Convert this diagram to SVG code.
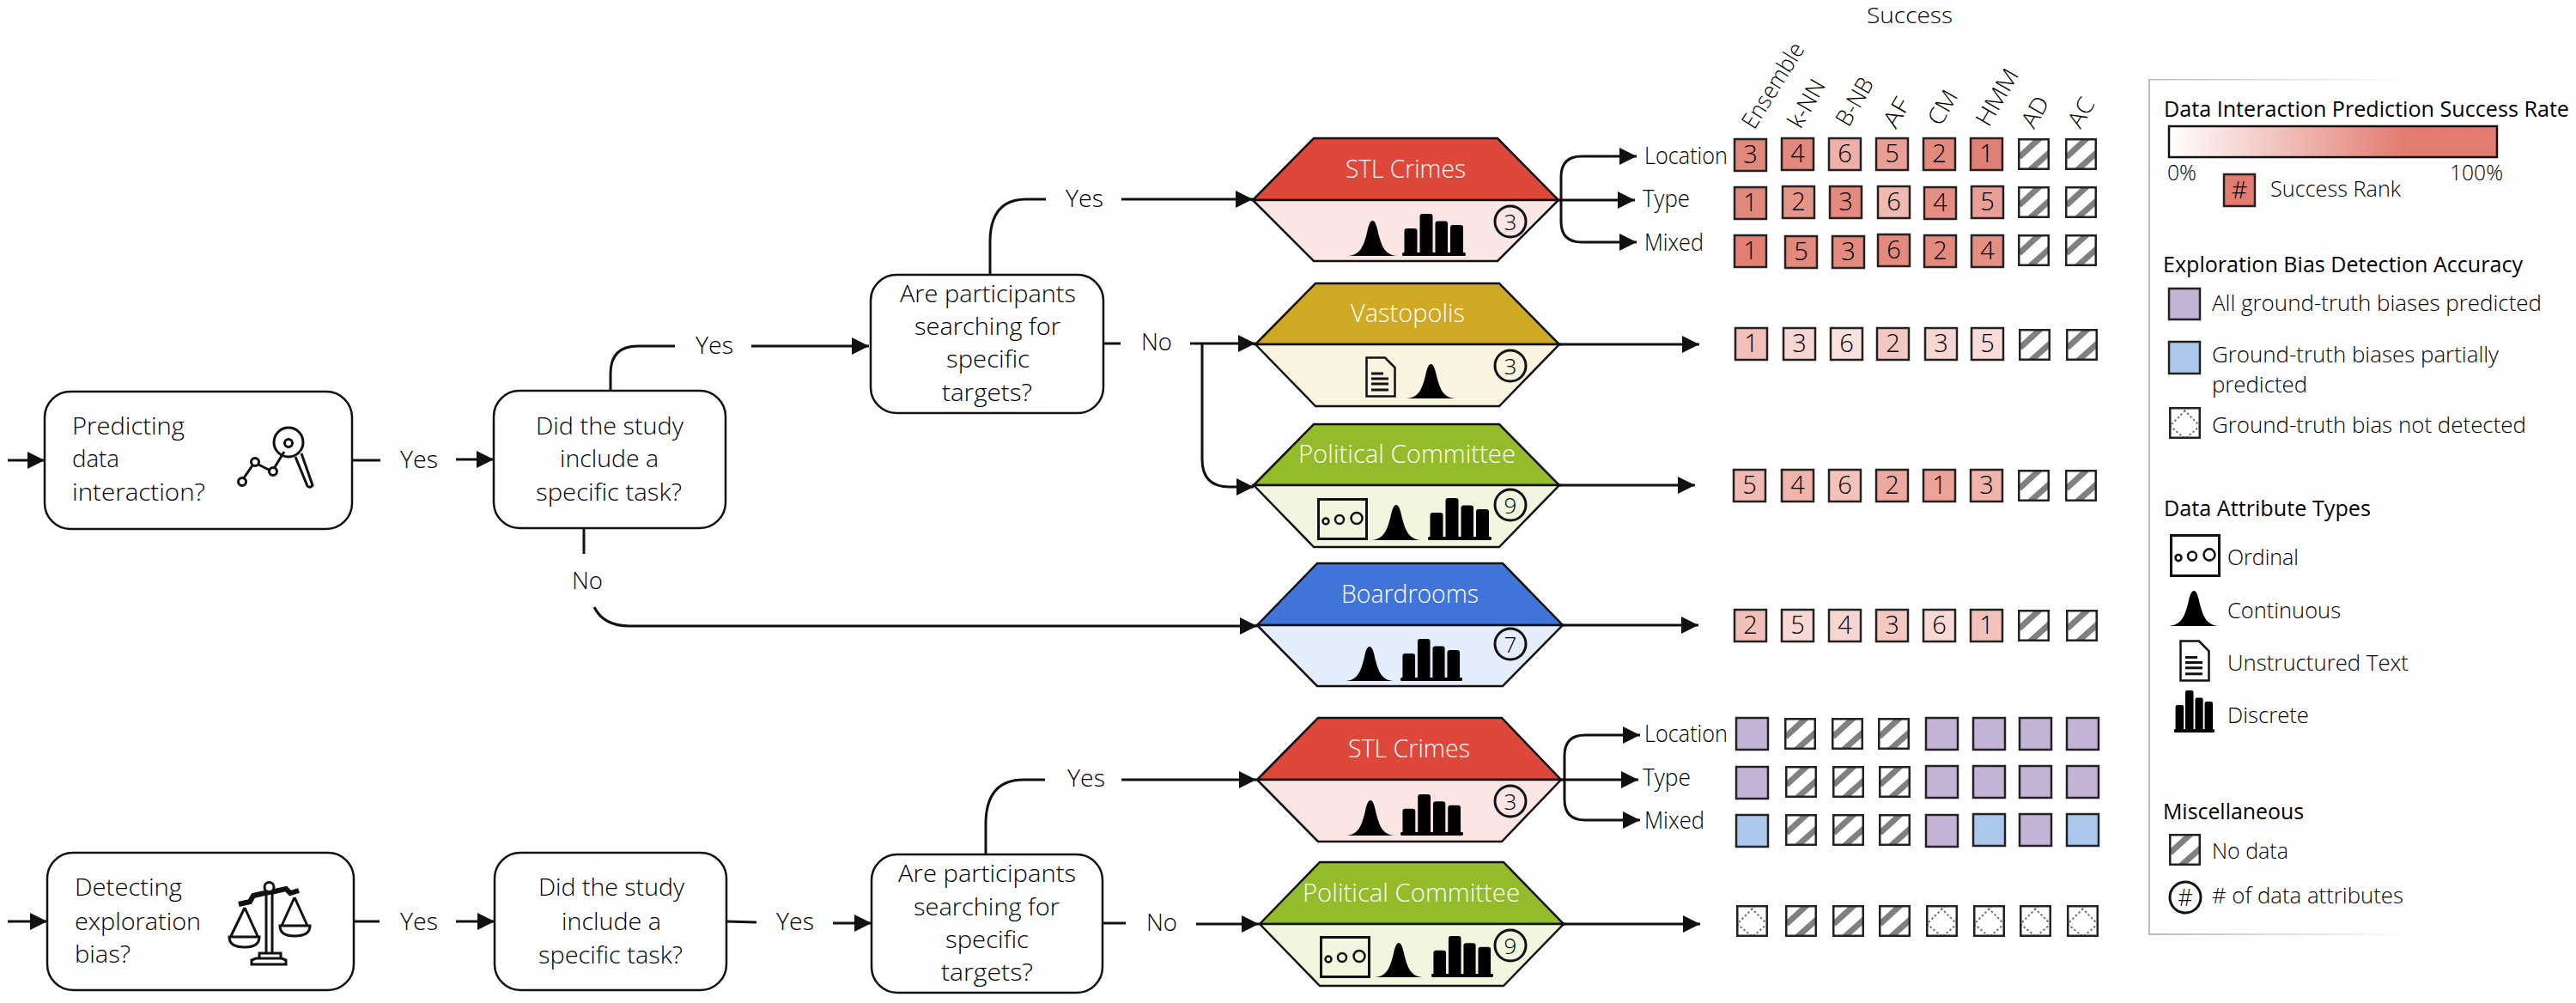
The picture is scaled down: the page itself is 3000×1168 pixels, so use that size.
<svg xmlns="http://www.w3.org/2000/svg" width="3000" height="1168" viewBox="0 0 3000 1168">
<style>
text{font-family:"Open Sans","Noto Sans","Liberation Sans",sans-serif;font-weight:300;fill:#000}
.t{font-size:28px}
.l{font-size:25px}
.h{font-size:25px;font-weight:400}
.w{font-size:30px;fill:#fff}
.n{font-size:29px;text-anchor:middle}
.cn{font-size:26px;text-anchor:middle}
.b{fill:#fff;stroke:#111;stroke-width:2.5}
.hx{stroke:#111;stroke-width:2.5;stroke-linejoin:miter}
.c{stroke:#222;stroke-width:2.5}
.k{fill:none;stroke:#111;stroke-width:3}
.a{fill:none;stroke:#111;stroke-width:3;marker-end:url(#arrow)}
.ci{fill:none;stroke:#111;stroke-width:3}
.i{fill:none;stroke:#111;stroke-width:3}
</style>
<defs>
<marker id="arrow" markerUnits="userSpaceOnUse" markerWidth="20" markerHeight="20" refX="20" refY="10" orient="auto"><path d="M0 0L20 10L0 20Z" fill="#111"/></marker>
<linearGradient id="grad"><stop offset="0" stop-color="#fff"/><stop offset=".72" stop-color="#E27B70"/><stop offset="1" stop-color="#E27B70"/></linearGradient>
<linearGradient id="fade"><stop offset="0" stop-color="#bbb"/><stop offset="1" stop-color="#fff"/></linearGradient>
<symbol id="bell" viewBox="0 0 57 41" preserveAspectRatio="none"><path d="M0 41C14 40 18 30 22 14C24 4 26 0 28.5 0C31 0 33 4 35 14C39 30 43 40 57 41Z" fill="#000"/></symbol>
<symbol id="bars" viewBox="0 0 74 49" preserveAspectRatio="none"><g fill="#000"><rect x="2.5" y="17" width="15" height="31" rx="3"/><rect x="20.5" y="0" width="15" height="48" rx="3"/><rect x="38.5" y="8.5" width="14.5" height="40" rx="3"/><rect x="56" y="13" width="15" height="35" rx="3"/><rect x="0" y="45" width="74" height="4" rx="1.5"/></g></symbol>
<symbol id="doc" viewBox="0 0 36 48" preserveAspectRatio="none"><path d="M1.5 1.5H23L34.5 13V46.5H1.5Z" fill="none" stroke="#111" stroke-width="2.5"/><path d="M7 20H21M7 26H27M7 32H27M7 39H27" fill="none" stroke="#111" stroke-width="3"/></symbol>
<symbol id="ord" viewBox="0 0 59 49" preserveAspectRatio="none"><rect x="1.5" y="1.5" width="56" height="46" fill="none" stroke="#111" stroke-width="3"/><circle cx="10" cy="27" r="3.5" fill="none" stroke="#111" stroke-width="2.5"/><circle cx="26" cy="25" r="5" fill="none" stroke="#111" stroke-width="2.5"/><circle cx="46" cy="23.5" r="6.5" fill="none" stroke="#111" stroke-width="2.5"/></symbol>
<symbol id="nd" viewBox="0 0 37 37"><rect width="37" height="37" fill="#fff"/><path d="M1.5 22L25.6 0M14 37L37 16.5" stroke="#808080" stroke-width="7" fill="none"/><rect width="37" height="37" fill="none" stroke="#222" stroke-width="5"/></symbol>
<symbol id="nf" viewBox="0 0 37 37"><rect width="37" height="37" fill="#fff"/><path d="M14 0L36 22L19 37L1 22L23 0" stroke="#707070" stroke-width="2" stroke-dasharray="2.5 2.5" fill="none"/><rect width="37" height="37" fill="none" stroke="#222" stroke-width="5"/></symbol>
</defs>

<g id="connectors">
<path class="a" d="M9 536H52"/>
<path class="k" d="M410 536H443"/>
<path class="a" d="M531 535H575"/>
<path class="k" d="M711 455V435Q711 403 743 403H786"/>
<path class="a" d="M875 403H1012"/>
<path class="k" d="M680 615V645"/>
<path class="a" d="M692 707Q703 729 733 729H1100H1464"/>
<path class="k" d="M1153 320V282Q1153 232 1195 232H1218"/>
<path class="a" d="M1306 232H1459"/>
<path class="k" d="M1285 400H1305"/>
<path class="a" d="M1386 400H1462"/>
<path class="a" d="M1400 400V535Q1400 567 1432 567H1460"/>
<path class="a" d="M1815 233H1904"/>
<path class="a" d="M1818 233V206Q1818 182 1842 182H1906"/>
<path class="a" d="M1818 233V258Q1818 282 1842 282H1906"/>
<path class="a" d="M1816 401H1979"/>
<path class="a" d="M1816 565H1974"/>
<path class="a" d="M1820 728H1978"/>
<path class="a" d="M9 1073H55"/>
<path class="k" d="M412 1073H442"/>
<path class="a" d="M531 1073H576"/>
<path class="k" d="M846 1073L881 1074"/>
<path class="a" d="M970 1075H1015"/>
<path class="k" d="M1148 995V960Q1148 908 1192 908H1217"/>
<path class="a" d="M1306 908H1463"/>
<path class="k" d="M1284 1075H1311"/>
<path class="a" d="M1393 1076H1466"/>
<path class="a" d="M1818 908H1908"/>
<path class="a" d="M1822 908V880Q1822 856 1846 856H1910"/>
<path class="a" d="M1822 908V931Q1822 955 1846 955H1910"/>
<path class="a" d="M1821 1076H1980"/>
</g>

<g id="edge-labels">
<text class="t" x="466" y="545" textLength="44" lengthAdjust="spacingAndGlyphs">Yes</text>
<text class="t" x="810" y="412" textLength="44" lengthAdjust="spacingAndGlyphs">Yes</text>
<text class="t" x="666" y="686" textLength="36" lengthAdjust="spacingAndGlyphs">No</text>
<text class="t" x="1241" y="241" textLength="44" lengthAdjust="spacingAndGlyphs">Yes</text>
<text class="t" x="1329" y="408" textLength="36" lengthAdjust="spacingAndGlyphs">No</text>
<text class="t" x="466" y="1083" textLength="44" lengthAdjust="spacingAndGlyphs">Yes</text>
<text class="t" x="904" y="1083" textLength="44" lengthAdjust="spacingAndGlyphs">Yes</text>
<text class="t" x="1243" y="916" textLength="44" lengthAdjust="spacingAndGlyphs">Yes</text>
<text class="t" x="1335" y="1084" textLength="36" lengthAdjust="spacingAndGlyphs">No</text>
<text class="t" x="1915" y="191" textLength="97" lengthAdjust="spacingAndGlyphs">Location</text>
<text class="t" x="1913" y="241" textLength="55" lengthAdjust="spacingAndGlyphs">Type</text>
<text class="t" x="1915" y="292" textLength="69" lengthAdjust="spacingAndGlyphs">Mixed</text>
<text class="t" x="1915" y="864" textLength="97" lengthAdjust="spacingAndGlyphs">Location</text>
<text class="t" x="1913" y="915" textLength="56" lengthAdjust="spacingAndGlyphs">Type</text>
<text class="t" x="1915" y="965" textLength="70" lengthAdjust="spacingAndGlyphs">Mixed</text>
</g>

<g id="node-predict">
<rect class="b" x="52" y="456" width="358" height="160" rx="30"/>
<text class="t" x="84" y="506" textLength="131" lengthAdjust="spacingAndGlyphs">Predicting</text>
<text class="t" x="84" y="544" textLength="55" lengthAdjust="spacingAndGlyphs">data</text>
<text class="t" x="84" y="583" textLength="155" lengthAdjust="spacingAndGlyphs">interaction?</text>
<path class="i" d="M283 558L294 542M301 541L313 547M320 544L331 526M344 532L358 566Q361 569 364 565L351 528"/>
<circle class="i" cx="282" cy="561" r="4.5"/><circle class="i" cx="297" cy="538" r="4.5"/><circle class="i" cx="318" cy="549" r="4.5"/><circle class="i" cx="336" cy="516" r="4.5"/><circle class="i" cx="336" cy="515" r="17"/>
</g>
<g id="node-task1">
<rect class="b" x="575" y="455" width="270" height="160" rx="30"/>
<text class="t" x="624" y="506" textLength="172" lengthAdjust="spacingAndGlyphs">Did the study</text>
<text class="t" x="652" y="544" textLength="115" lengthAdjust="spacingAndGlyphs">include a</text>
<text class="t" x="624" y="583" textLength="170" lengthAdjust="spacingAndGlyphs">specific task?</text>
</g>
<g id="node-targets1">
<rect class="b" x="1014" y="320" width="271" height="161" rx="30"/>
<text class="t" x="1048" y="352" textLength="205" lengthAdjust="spacingAndGlyphs">Are participants</text>
<text class="t" x="1065" y="390" textLength="170" lengthAdjust="spacingAndGlyphs">searching for</text>
<text class="t" x="1102" y="428" textLength="97" lengthAdjust="spacingAndGlyphs">specific</text>
<text class="t" x="1097" y="467" textLength="105" lengthAdjust="spacingAndGlyphs">targets?</text>
</g>
<g id="node-detect">
<rect class="b" x="55" y="993" width="357" height="160" rx="30"/>
<text class="t" x="87" y="1043" textLength="125" lengthAdjust="spacingAndGlyphs">Detecting</text>
<text class="t" x="87" y="1083" textLength="147" lengthAdjust="spacingAndGlyphs">exploration</text>
<text class="t" x="87" y="1121" textLength="65" lengthAdjust="spacingAndGlyphs">bias?</text>
<path d="M278 1053L291 1050L295 1043L308 1040L320 1038L333 1035L338 1040L348 1037" fill="none" stroke="#111" stroke-width="6"/>
<path class="i" d="M310 1038V1110M317 1038V1110M302 1116V1110H327V1116M293 1123V1118L298 1116H328L333 1118V1123ZM285 1057L269 1090M285 1057L300 1090M267 1091H302Q302 1103 285 1103Q267 1103 267 1091ZM343 1045L328 1078M343 1045L358 1078M326 1078H361Q361 1090 343 1090Q326 1090 326 1078Z"/>
<circle cx="313.500" cy="1033" r="5.500" fill="#fff" stroke="#111" stroke-width="3"/>
</g>
<g id="node-task2">
<rect class="b" x="576" y="993" width="270" height="160" rx="30"/>
<text class="t" x="627" y="1043" textLength="170" lengthAdjust="spacingAndGlyphs">Did the study</text>
<text class="t" x="654" y="1083" textLength="116" lengthAdjust="spacingAndGlyphs">include a</text>
<text class="t" x="627" y="1122" textLength="168" lengthAdjust="spacingAndGlyphs">specific task?</text>
</g>
<g id="node-targets2">
<rect class="b" x="1015" y="995" width="269" height="161" rx="30"/>
<text class="t" x="1046" y="1027" textLength="207" lengthAdjust="spacingAndGlyphs">Are participants</text>
<text class="t" x="1064" y="1066" textLength="170" lengthAdjust="spacingAndGlyphs">searching for</text>
<text class="t" x="1101" y="1104" textLength="97" lengthAdjust="spacingAndGlyphs">specific</text>
<text class="t" x="1096" y="1142" textLength="107" lengthAdjust="spacingAndGlyphs">targets?</text>
</g>

<g id="node-stl1">
<path class="hx" fill="#DE483A" d="M1459 233L1530 161H1744L1815 233Z"/>
<path class="hx" fill="#F9E6E4" d="M1459 233L1530 304H1744L1815 233Z"/>
<text class="w" x="1567" y="207" textLength="140" lengthAdjust="spacingAndGlyphs">STL Crimes</text>
<use href="#bell" x="1570" y="257" width="57" height="41"/><use href="#bars" x="1633" y="249" width="74" height="49"/>
<circle class="ci" cx="1759" cy="258" r="18"/><text class="cn" x="1759" y="268">3</text>
</g>
<g id="node-vastopolis">
<path class="hx" fill="#CFA824" d="M1462 401L1532 330H1746L1816 401Z"/>
<path class="hx" fill="#F9F4E0" d="M1462 401L1532 473H1746L1816 401Z"/>
<text class="w" x="1573" y="375" textLength="133" lengthAdjust="spacingAndGlyphs">Vastopolis</text>
<use href="#doc" x="1590" y="415" width="36" height="48"/><use href="#bell" x="1638" y="424" width="57" height="40"/>
<circle class="ci" cx="1759" cy="426" r="18"/><text class="cn" x="1759" y="436">3</text>
</g>
<g id="node-pol1">
<path class="hx" fill="#94BB2A" d="M1460 565L1530 494H1746L1816 565Z"/>
<path class="hx" fill="#F1F6DF" d="M1460 565L1530 637H1746L1816 565Z"/>
<text class="w" x="1512" y="539" textLength="253" lengthAdjust="spacingAndGlyphs">Political Committee</text>
<use href="#ord" x="1534" y="580" width="59" height="49"/><use href="#bell" x="1597" y="588" width="58" height="41"/><use href="#bars" x="1663" y="580" width="74" height="49"/>
<circle class="ci" cx="1759" cy="588" r="18"/><text class="cn" x="1759" y="598">9</text>
</g>
<g id="node-boardrooms">
<path class="hx" fill="#4174D9" d="M1464 728L1534 656H1750L1820 728Z"/>
<path class="hx" fill="#E4EDFB" d="M1464 728L1534 799H1750L1820 728Z"/>
<text class="w" x="1562" y="702" textLength="160" lengthAdjust="spacingAndGlyphs">Boardrooms</text>
<use href="#bell" x="1567" y="753" width="56" height="40"/><use href="#bars" x="1631" y="744" width="72" height="49"/>
<circle class="ci" cx="1759" cy="750" r="18"/><text class="cn" x="1759" y="760">7</text>
</g>
<g id="node-stl2">
<path class="hx" fill="#DE483A" d="M1464 908L1535 836H1749L1818 908Z"/>
<path class="hx" fill="#F9E6E4" d="M1464 908L1535 980H1749L1818 908Z"/>
<text class="w" x="1570" y="882" textLength="142" lengthAdjust="spacingAndGlyphs">STL Crimes</text>
<use href="#bell" x="1568" y="932" width="56" height="41"/><use href="#bars" x="1631" y="925" width="73" height="48"/>
<circle class="ci" cx="1759" cy="933" r="18"/><text class="cn" x="1759" y="943">3</text>
</g>
<g id="node-pol2">
<path class="hx" fill="#94BB2A" d="M1467 1076L1537 1004H1751L1821 1076Z"/>
<path class="hx" fill="#F1F6DF" d="M1467 1076L1537 1148H1751L1821 1076Z"/>
<text class="w" x="1517" y="1050" textLength="253" lengthAdjust="spacingAndGlyphs">Political Committee</text>
<use href="#ord" x="1537" y="1090" width="59" height="49"/><use href="#bell" x="1601" y="1098" width="56" height="40"/><use href="#bars" x="1667" y="1090" width="72" height="48"/>
<circle class="ci" cx="1759" cy="1101" r="18"/><text class="cn" x="1759" y="1111">9</text>
</g>

<g id="matrix-headers">
<text class="h" x="2174" y="27" textLength="100" lengthAdjust="spacingAndGlyphs" style="font-size:26px;font-weight:300">Success</text>
<g>
<text class="l" style="font-size:27px" transform="translate(2043 152) rotate(-58)" textLength="112" lengthAdjust="spacingAndGlyphs">Ensemble</text>
<text class="l" style="font-size:27px" transform="translate(2097 151) rotate(-60)" textLength="60" lengthAdjust="spacingAndGlyphs">k-NN</text>
<text class="l" style="font-size:27px" transform="translate(2153 149) rotate(-60)" textLength="60" lengthAdjust="spacingAndGlyphs">B-NB</text>
<text class="l" style="font-size:27px" transform="translate(2208 151) rotate(-60)" textLength="35" lengthAdjust="spacingAndGlyphs">AF</text>
<text class="l" style="font-size:27px" transform="translate(2260 148) rotate(-60)" textLength="42" lengthAdjust="spacingAndGlyphs">CM</text>
<text class="l" style="font-size:27px" transform="translate(2316 149) rotate(-60)" textLength="72" lengthAdjust="spacingAndGlyphs">HMM</text>
<text class="l" style="font-size:27px" transform="translate(2369 151) rotate(-60)" textLength="37" lengthAdjust="spacingAndGlyphs">AD</text>
<text class="l" style="font-size:27px" transform="translate(2423 151) rotate(-60)" textLength="35" lengthAdjust="spacingAndGlyphs">AC</text>
</g>
</g>

<g id="matrix-success">
<g transform="translate(2020 162)"><rect class="c" width="37" height="37" fill="#E2897E"/><text class="n" x="18.500" y="28">3</text></g>
<g transform="translate(2075 161)"><rect class="c" width="37" height="37" fill="#E2897E"/><text class="n" x="18.500" y="28">4</text></g>
<g transform="translate(2130 161)"><rect class="c" width="37" height="37" fill="#EEB0A8"/><text class="n" x="18.500" y="28">6</text></g>
<g transform="translate(2185 161)"><rect class="c" width="37" height="37" fill="#E99F95"/><text class="n" x="18.500" y="28">5</text></g>
<g transform="translate(2240 161)"><rect class="c" width="37" height="37" fill="#E3897D"/><text class="n" x="18.500" y="28">2</text></g>
<g transform="translate(2295 161)"><rect class="c" width="37" height="37" fill="#E07F73"/><text class="n" x="18.500" y="28">1</text></g>
<use href="#nd" x="2350" y="161" width="37" height="37"/><use href="#nd" x="2405" y="161" width="37" height="37"/>

<g transform="translate(2020 218)"><rect class="c" width="37" height="37" fill="#E2897E"/><text class="n" x="18.500" y="28">1</text></g>
<g transform="translate(2076 217)"><rect class="c" width="37" height="37" fill="#E59488"/><text class="n" x="18.500" y="28">2</text></g>
<g transform="translate(2131 217)"><rect class="c" width="37" height="37" fill="#E3897D"/><text class="n" x="18.500" y="28">3</text></g>
<g transform="translate(2187 217)"><rect class="c" width="37" height="37" fill="#F0B9B2"/><text class="n" x="18.500" y="28">6</text></g>
<g transform="translate(2241 218)"><rect class="c" width="37" height="37" fill="#E58E83"/><text class="n" x="18.500" y="28">4</text></g>
<g transform="translate(2296 217)"><rect class="c" width="37" height="37" fill="#E99F95"/><text class="n" x="18.500" y="28">5</text></g>
<use href="#nd" x="2350" y="217" width="37" height="37"/><use href="#nd" x="2405" y="217" width="37" height="37"/>

<g transform="translate(2020 274)"><rect class="c" width="37" height="37" fill="#E17F73"/><text class="n" x="18.500" y="28">1</text></g>
<g transform="translate(2079 275)"><rect class="c" width="37" height="37" fill="#E3897D"/><text class="n" x="18.500" y="28">5</text></g>
<g transform="translate(2134 275)"><rect class="c" width="37" height="37" fill="#E3897D"/><text class="n" x="18.500" y="28">3</text></g>
<g transform="translate(2187 273)"><rect class="c" width="37" height="37" fill="#E3897D"/><text class="n" x="18.500" y="28">6</text></g>
<g transform="translate(2241 274)"><rect class="c" width="37" height="37" fill="#E3897D"/><text class="n" x="18.500" y="28">2</text></g>
<g transform="translate(2296 274)"><rect class="c" width="37" height="37" fill="#E58E83"/><text class="n" x="18.500" y="28">4</text></g>
<use href="#nd" x="2350" y="273" width="37" height="37"/><use href="#nd" x="2405" y="273" width="37" height="37"/>

<g transform="translate(2021 382)"><rect class="c" width="37" height="37" fill="#F2C0B9"/><text class="n" x="18.500" y="28">1</text></g>
<g transform="translate(2077 382)"><rect class="c" width="37" height="37" fill="#F6D6D1"/><text class="n" x="18.500" y="28">3</text></g>
<g transform="translate(2132 382)"><rect class="c" width="37" height="37" fill="#FAE1DD"/><text class="n" x="18.500" y="28">6</text></g>
<g transform="translate(2186 382)"><rect class="c" width="37" height="37" fill="#F3C8C2"/><text class="n" x="18.500" y="28">2</text></g>
<g transform="translate(2242 382)"><rect class="c" width="37" height="37" fill="#F6D6D1"/><text class="n" x="18.500" y="28">3</text></g>
<g transform="translate(2296 382)"><rect class="c" width="37" height="37" fill="#F9DCD8"/><text class="n" x="18.500" y="28">5</text></g>
<use href="#nd" x="2351" y="383" width="37" height="37"/><use href="#nd" x="2406" y="383" width="37" height="37"/>

<g transform="translate(2019 547)"><rect class="c" width="37" height="37" fill="#F0B9B3"/><text class="n" x="18.500" y="28">5</text></g>
<g transform="translate(2075 547)"><rect class="c" width="37" height="37" fill="#F0B4AD"/><text class="n" x="18.500" y="28">4</text></g>
<g transform="translate(2130 547)"><rect class="c" width="37" height="37" fill="#F3C2BB"/><text class="n" x="18.500" y="28">6</text></g>
<g transform="translate(2185 547)"><rect class="c" width="37" height="37" fill="#EDA99F"/><text class="n" x="18.500" y="28">2</text></g>
<g transform="translate(2240 547)"><rect class="c" width="37" height="37" fill="#ECA297"/><text class="n" x="18.500" y="28">1</text></g>
<g transform="translate(2295 547)"><rect class="c" width="37" height="37" fill="#F0B4AD"/><text class="n" x="18.500" y="28">3</text></g>
<use href="#nd" x="2350" y="547" width="37" height="37"/><use href="#nd" x="2405" y="547" width="37" height="37"/>

<g transform="translate(2020 710)"><rect class="c" width="37" height="37" fill="#F1C0B8"/><text class="n" x="18.500" y="28">2</text></g>
<g transform="translate(2075 710)"><rect class="c" width="37" height="37" fill="#F8D9D5"/><text class="n" x="18.500" y="28">5</text></g>
<g transform="translate(2130 710)"><rect class="c" width="37" height="37" fill="#F7D6D1"/><text class="n" x="18.500" y="28">4</text></g>
<g transform="translate(2185 710)"><rect class="c" width="37" height="37" fill="#F3C8C1"/><text class="n" x="18.500" y="28">3</text></g>
<g transform="translate(2240 710)"><rect class="c" width="37" height="37" fill="#F8D9D5"/><text class="n" x="18.500" y="28">6</text></g>
<g transform="translate(2295 710)"><rect class="c" width="37" height="37" fill="#F2C2BA"/><text class="n" x="18.500" y="28">1</text></g>
<use href="#nd" x="2350" y="710" width="37" height="37"/><use href="#nd" x="2406" y="710" width="37" height="37"/>
</g>

<g id="matrix-bias">
<rect class="c" x="2022" y="836" width="37" height="37" fill="#C3B3D7"/><use href="#nd" x="2078" y="836" width="37" height="37"/><use href="#nd" x="2133" y="836" width="37" height="37"/><use href="#nd" x="2187" y="836" width="37" height="37"/><rect class="c" x="2243" y="836" width="37" height="37" fill="#C3B3D7"/><rect class="c" x="2298" y="836" width="37" height="37" fill="#C3B3D7"/><rect class="c" x="2352" y="836" width="37" height="37" fill="#C3B3D7"/><rect class="c" x="2407" y="836" width="37" height="37" fill="#C3B3D7"/>
<rect class="c" x="2022" y="893" width="37" height="37" fill="#C3B3D7"/><use href="#nd" x="2079" y="892" width="37" height="37"/><use href="#nd" x="2134" y="892" width="37" height="37"/><use href="#nd" x="2188" y="892" width="37" height="37"/><rect class="c" x="2243" y="892" width="37" height="37" fill="#C3B3D7"/><rect class="c" x="2298" y="892" width="37" height="37" fill="#C3B3D7"/><rect class="c" x="2352" y="892" width="37" height="37" fill="#C3B3D7"/><rect class="c" x="2407" y="892" width="37" height="37" fill="#C3B3D7"/>
<rect class="c" x="2022" y="949" width="37" height="37" fill="#ABC7EB"/><use href="#nd" x="2079" y="948" width="37" height="37"/><use href="#nd" x="2134" y="948" width="37" height="37"/><use href="#nd" x="2188" y="948" width="37" height="37"/><rect class="c" x="2243" y="949" width="37" height="37" fill="#C3B3D7"/><rect class="c" x="2298" y="948" width="37" height="37" fill="#ABC7EB"/><rect class="c" x="2352" y="948" width="37" height="37" fill="#C3B3D7"/><rect class="c" x="2407" y="948" width="37" height="37" fill="#ABC7EB"/>
<use href="#nf" x="2022" y="1054" width="37" height="37"/><use href="#nd" x="2079" y="1054" width="37" height="37"/><use href="#nd" x="2134" y="1054" width="37" height="37"/><use href="#nd" x="2188" y="1054" width="37" height="37"/><use href="#nf" x="2243" y="1054" width="37" height="37"/><use href="#nf" x="2298" y="1054" width="37" height="37"/><use href="#nf" x="2352" y="1054" width="37" height="37"/><use href="#nf" x="2407" y="1054" width="37" height="37"/>
</g>

<g id="legend">
<rect x="2502" y="92" width="2" height="997" fill="#bbb"/>
<rect x="2502" y="92" width="310" height="1.500" fill="url(#fade)"/>
<rect x="2502" y="1087" width="310" height="2" fill="url(#fade)"/>
<text class="h" x="2520" y="136" textLength="472" lengthAdjust="spacingAndGlyphs">Data Interaction Prediction Success Rate</text>
<rect x="2526" y="147" width="382" height="36" fill="url(#grad)" stroke="#111" stroke-width="2.500"/>
<text class="l" x="2524" y="210" textLength="34" lengthAdjust="spacingAndGlyphs">0%</text>
<text class="l" x="2853" y="210" textLength="62" lengthAdjust="spacingAndGlyphs">100%</text>
<rect class="c" x="2590" y="203" width="36" height="37" fill="#E27B70"/><text class="n" x="2608" y="231" style="font-size:28px">#</text>
<text class="l" x="2644" y="229" textLength="152" lengthAdjust="spacingAndGlyphs">Success Rank</text>
<text class="h" x="2519" y="317" textLength="419" lengthAdjust="spacingAndGlyphs">Exploration Bias Detection Accuracy</text>
<rect class="c" x="2526" y="336" width="36" height="36" fill="#C3B3D7"/>
<text class="l" x="2576" y="362" textLength="384" lengthAdjust="spacingAndGlyphs">All ground-truth biases predicted</text>
<rect class="c" x="2526" y="398" width="36" height="37" fill="#ABC7EB"/>
<text class="l" x="2576" y="422" textLength="334" lengthAdjust="spacingAndGlyphs">Ground-truth biases partially</text>
<text class="l" x="2576" y="457" textLength="111" lengthAdjust="spacingAndGlyphs">predicted</text>
<use href="#nf" x="2526" y="474" width="37" height="37"/>
<text class="l" x="2576" y="504" textLength="366" lengthAdjust="spacingAndGlyphs">Ground-truth bias not detected</text>
<text class="h" x="2520" y="601" textLength="241" lengthAdjust="spacingAndGlyphs">Data Attribute Types</text>
<use href="#ord" x="2527" y="622" width="59" height="50"/>
<text class="l" x="2594" y="658" textLength="83" lengthAdjust="spacingAndGlyphs">Ordinal</text>
<use href="#bell" x="2526" y="688" width="58" height="41"/>
<text class="l" x="2594" y="720" textLength="132" lengthAdjust="spacingAndGlyphs">Continuous</text>
<use href="#doc" x="2538" y="745" width="36" height="49"/>
<text class="l" x="2594" y="781" textLength="211" lengthAdjust="spacingAndGlyphs">Unstructured Text</text>
<use href="#bars" x="2532" y="804" width="47" height="49"/>
<text class="l" x="2594" y="842" textLength="95" lengthAdjust="spacingAndGlyphs">Discrete</text>
<text class="h" x="2519" y="954" textLength="164" lengthAdjust="spacingAndGlyphs">Miscellaneous</text>
<use href="#nd" x="2526" y="971" width="37" height="37"/>
<text class="l" x="2576" y="1000" textLength="89" lengthAdjust="spacingAndGlyphs">No data</text>
<circle class="ci" cx="2545" cy="1045" r="18"/><text class="n" x="2545" y="1055" style="font-size:27px">#</text>
<text class="l" x="2576" y="1052" textLength="223" lengthAdjust="spacingAndGlyphs"># of data attributes</text>
</g>
</svg>
